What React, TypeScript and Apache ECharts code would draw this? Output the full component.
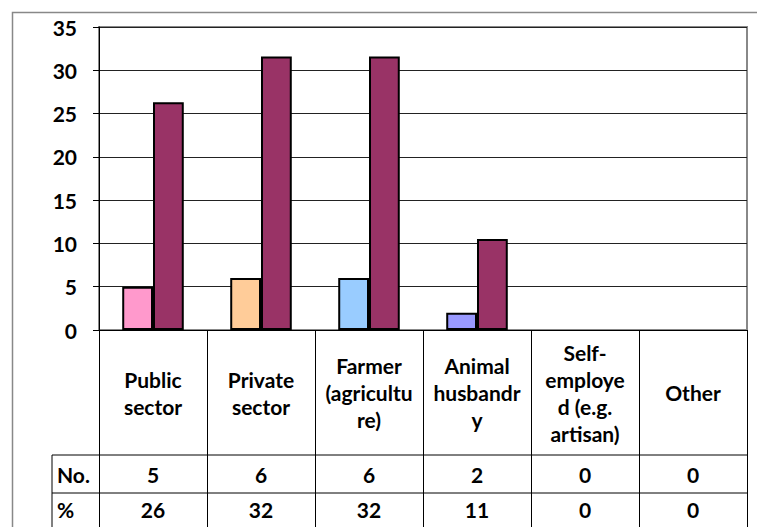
import React, { useEffect, useRef } from "react";
import * as echarts from "echarts";

const categories = [
  "Public\nsector",
  "Private\nsector",
  "Farmer\n(agricultu\nre)",
  "Animal\nhusbandr\ny",
  "Self-\nemploye\nd (e.g.\nartisan)",
  "Other",
];
const countValues = [5, 6, 6, 2, 0, 0];
const percentValues = [26.3, 31.6, 31.6, 10.5, 0, 0];
const percentTable = [26, 32, 32, 11, 0, 0];
const rowLabels = ["No.", "%"];
const countColors = ["#FF99CC", "#FFCC99", "#99CCFF", "#9999FF", "#FF99CC", "#FFCC99"];
const percentColor = "#993366";
const yTicks = { min: 0, max: 35, interval: 5 };

const W = 757;
const H = 527;
const gridLeft = 99;
const gridTop = 27;
const gridRightX = 747;
const zeroY = 330;
const row1Y = 455;
const row2Y = 493;
const tableLeft = 52;
const font = "Lato, 'Open Sans', sans-serif";
const fontSize = 21;

export default function App() {
  const ref = useRef<HTMLDivElement>(null);
  useEffect(() => {
    document.body.style.margin = "0";
    if (!ref.current) return;
    const chart = echarts.init(ref.current, null, { renderer: "svg" });
    const labelStyle = {
      fontFamily: font,
      fontWeight: "bold" as const,
      fontSize,
      color: "#000",
    };
    const tableAxis = (vals: number[], offset: number) => ({
      type: "category" as const,
      gridIndex: 0,
      position: "bottom" as const,
      offset,
      data: vals.map((v) => String(v)),
      axisLine: { show: false },
      axisTick: { show: false },
      axisLabel: { ...labelStyle, interval: 0, margin: 0, verticalAlign: "middle" },
    });
    chart.setOption({
      animation: false,
      backgroundColor: "#fff",
      grid: {
        left: gridLeft,
        top: gridTop,
        right: W - gridRightX,
        bottom: H - zeroY,
        show: true,
        borderColor: "#888",
        borderWidth: 2,
        backgroundColor: "transparent",
        outerBoundsMode: "none",
      },
      xAxis: [
        {
          type: "category",
          data: categories,
          axisLine: { show: true, lineStyle: { color: "#000", width: 1 } },
          axisTick: { show: true, length: 200, interval: 0, lineStyle: { color: "#000", width: 1 } },
          axisLabel: {
            ...labelStyle,
            interval: 0,
            margin: (row1Y - zeroY) / 2,
            verticalAlign: "middle",
            lineHeight: 27,
            align: "center",
          },
        },
        tableAxis(countValues, (row1Y + row2Y) / 2 - zeroY),
        tableAxis(percentTable, (row2Y + H) / 2 - zeroY - 1),
      ],
      yAxis: {
        type: "value",
        min: yTicks.min,
        max: yTicks.max,
        interval: yTicks.interval,
        axisLine: { show: true, lineStyle: { color: "#000", width: 1 } },
        axisTick: { show: true, length: 6, lineStyle: { color: "#000" } },
        axisLabel: { ...labelStyle, margin: 22 },
        splitLine: { show: true, lineStyle: { color: "#222", width: 1 } },
      },
      series: [
        {
          type: "bar",
          name: rowLabels[0],
          barGap: "0%",
          barCategoryGap: "43%",
          data: countValues.map((v, i) => ({
            value: v,
            itemStyle: {
              color: countColors[i],
              borderColor: "#000",
              borderWidth: v === 0 ? 0 : 2,
            },
          })),
        },
        {
          type: "bar",
          name: rowLabels[1],
          barGap: "0%",
          barCategoryGap: "43%",
          data: percentValues.map((v) => ({
            value: v,
            itemStyle: {
              color: percentColor,
              borderColor: "#000",
              borderWidth: v === 0 ? 0 : 2,
            },
          })),
        },
      ],
      graphic: [
        {
          type: "rect",
          silent: true,
          shape: { x: 12.5, y: 12.5, width: 1000, height: 1000 },
          style: { fill: "none", stroke: "#888", lineWidth: 1.5 },
          z: 100,
        },
        {
          type: "line",
          silent: true,
          shape: { x1: tableLeft, y1: row1Y, x2: gridRightX, y2: row1Y },
          style: { stroke: "#000", lineWidth: 1 },
        },
        {
          type: "line",
          silent: true,
          shape: { x1: tableLeft, y1: row2Y, x2: gridRightX, y2: row2Y },
          style: { stroke: "#000", lineWidth: 1 },
        },
        {
          type: "line",
          silent: true,
          shape: { x1: tableLeft, y1: row1Y, x2: tableLeft, y2: H + 10 },
          style: { stroke: "#000", lineWidth: 1 },
        },
        {
          type: "text",
          silent: true,
          x: tableLeft + 5,
          y: (row1Y + row2Y) / 2,
          style: {
            text: rowLabels[0],
            font: `bold ${fontSize}px ${font}`,
            fill: "#000",
            verticalAlign: "middle",
            align: "left",
          },
        },
        {
          type: "text",
          silent: true,
          x: tableLeft + 5,
          y: (row2Y + H) / 2 - 1,
          style: {
            text: rowLabels[1],
            font: `bold ${fontSize}px ${font}`,
            fill: "#000",
            verticalAlign: "middle",
            align: "left",
          },
        },
      ],
    });
    return () => chart.dispose();
  }, []);
  return <div ref={ref} style={{ width: W, height: H }} />;
}
